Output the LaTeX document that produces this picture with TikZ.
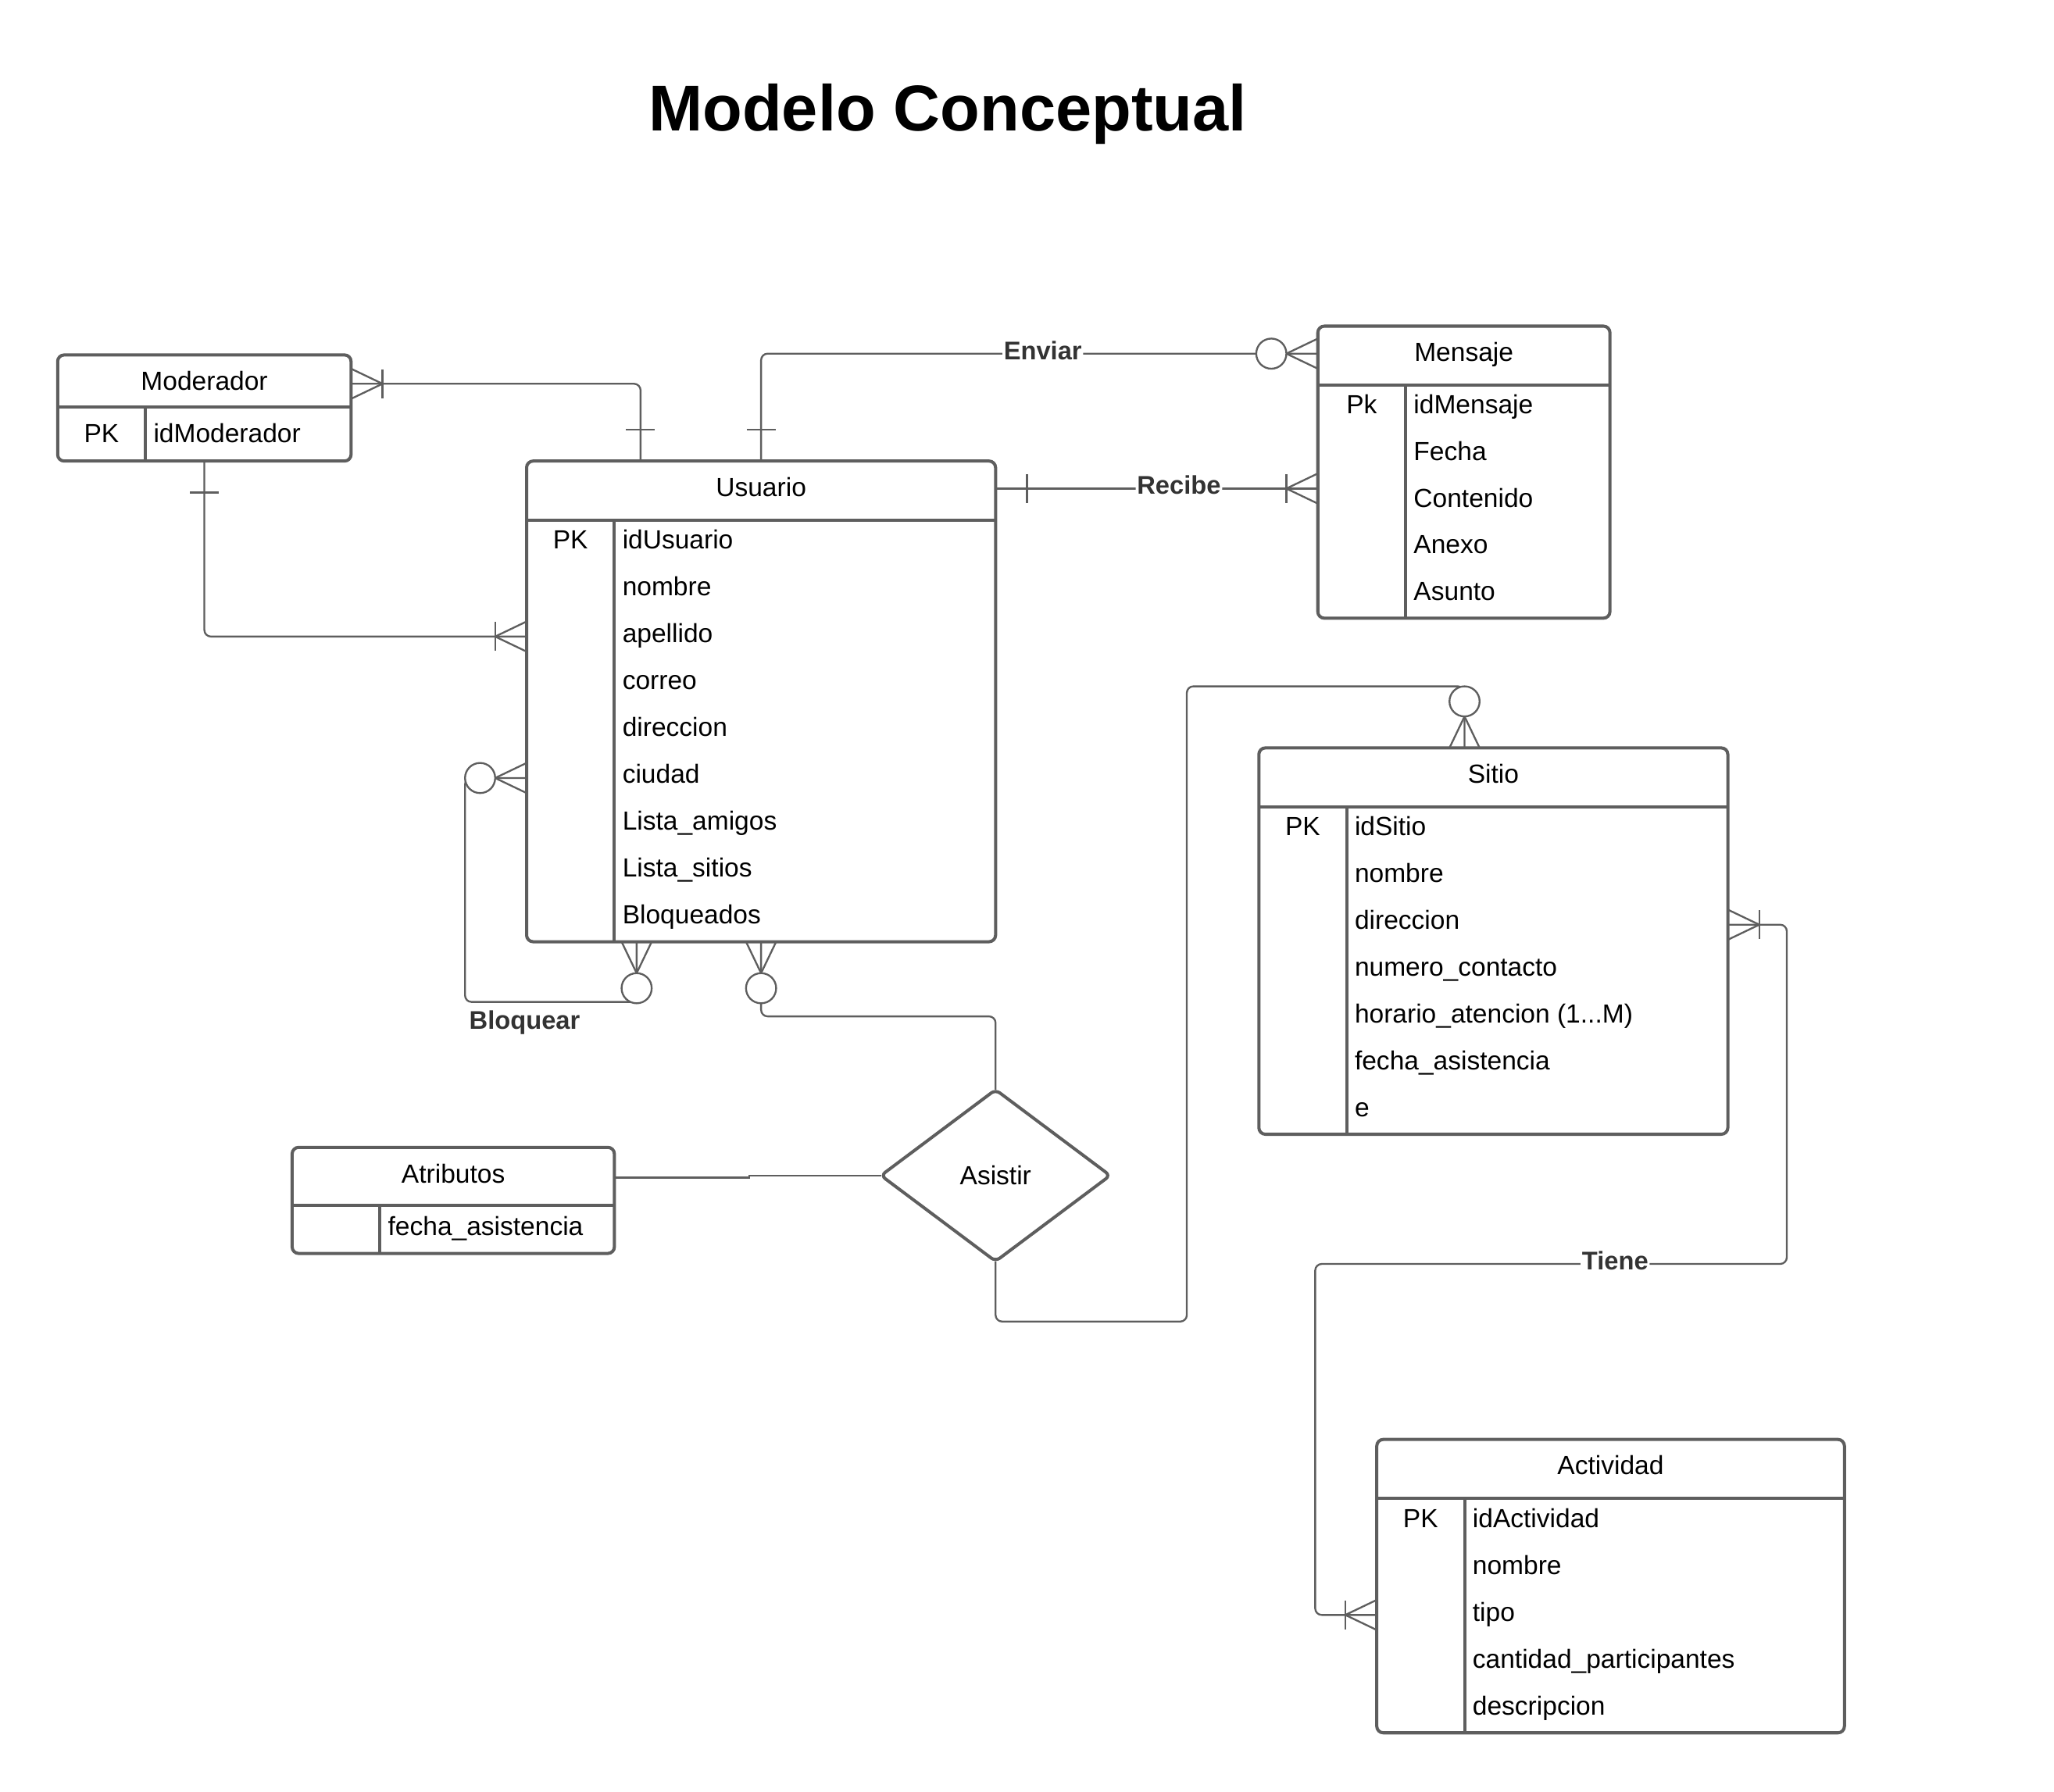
\documentclass[tikz,border=0pt]{standalone}
\usepackage{fontspec}
\setmainfont{Liberation Sans}
\usetikzlibrary{calc,shapes.geometric}

\definecolor{linegray}{RGB}{94,94,94}
\definecolor{lbltext}{RGB}{51,51,51}

\newcommand\erText{\fontsize{20}{24}\selectfont}
\newcommand\erLabel{\fontsize{19.5}{23}\selectfont\bfseries}
\newcommand\erTitle{\fontsize{49.5}{58}\selectfont\bfseries}
\newcommand\horarioField{horario\_atencion (1...M)}

\tikzset{
  entbox/.style={rectangle, draw=linegray, line width=2.4pt, rounded corners=5pt,
                 fill=white, inner sep=0pt, outer sep=0pt},
  divider/.style={draw=linegray, line width=2.4pt},
  conn/.style={draw=linegray, line width=1.4pt, rounded corners=5pt},
  headtext/.style={anchor=base, inner sep=0pt, font=\erText},
  keycell/.style={anchor=base, inner sep=0pt, font=\erText},
  field/.style={anchor=base west, inner sep=0pt, font=\erText},
  rel/.style={diamond, draw=linegray, line width=2.4pt, rounded corners=4pt,
              fill=white, inner sep=0pt, outer sep=0pt, font=\erText},
  lbl/.style={fill=white, inner sep=1pt, yshift=2.5pt, font=\erLabel, text=lbltext},
  % crow's foot ends: local +x points away from the entity
  onebar/.pic={\draw[linegray, line width=1.4pt] (24,-11) -- (24,11);},
  manybar/.pic={\draw[linegray, line width=1.4pt] (0,-11.5) -- (24,0) -- (0,11.5);
                \draw[linegray, line width=1.4pt] (24,-11) -- (24,11);},
  zeromany/.pic={\draw[linegray, line width=1.4pt] (0,-11.5) -- (24,0) -- (0,11.5);
                 \draw[linegray, line width=1.4pt, fill=white] (35.5,0) circle[radius=11.5pt];},
}

\begin{document}
\begin{tikzpicture}[x=1pt,y=-1pt]
\fill[white] (0,0) rectangle (1568,1368);
\useasboundingbox (0,0) rectangle (1568,1368);

% title
\node[anchor=base, inner sep=0pt, font=\erTitle] (title) at (723.5,100) {Modelo Conceptual};

% ---------- Moderador ----------
\node[entbox, minimum width=224pt, minimum height=81pt] (moderador) at (156,311.5) {};
\draw[divider] (44,311) -- (268,311);
\draw[divider] (111,311) -- (111,352);
\node[headtext] (moderador-name) at (156,298) {Moderador};
\node[keycell] (moderador-pk) at (77.5,338) {PK};
\node[field] (moderador-f0) at (117,338) {idModerador};

% ---------- Usuario ----------
\node[entbox, minimum width=358pt, minimum height=367pt] (usuario) at (581,535.5) {};
\draw[divider] (402,397) -- (760,397);
\draw[divider] (469,397) -- (469,719);
\node[headtext] (usuario-name) at (581,379) {Usuario};
\node[keycell] (usuario-pk) at (435.5,419) {PK};
\foreach \t [count=\i from 0] in {idUsuario,nombre,apellido,correo,direccion,ciudad,Lista\_amigos,Lista\_sitios,Bloqueados}
  \node[field] (usuario-f\i) at (475,419+35.8*\i) {\t};

% ---------- Mensaje ----------
\node[entbox, minimum width=223pt, minimum height=223pt] (mensaje) at (1117.5,360.5) {};
\draw[divider] (1006,294) -- (1229,294);
\draw[divider] (1073,294) -- (1073,472);
\node[headtext] (mensaje-name) at (1117.5,276) {Mensaje};
\node[keycell] (mensaje-pk) at (1039.5,316) {Pk};
\foreach \t [count=\i from 0] in {idMensaje,Fecha,Contenido,Anexo,Asunto}
  \node[field] (mensaje-f\i) at (1079,316+35.6*\i) {\t};

% ---------- Sitio ----------
\node[entbox, minimum width=358pt, minimum height=295pt] (sitio) at (1140,718.5) {};
\draw[divider] (961,616) -- (1319,616);
\draw[divider] (1028,616) -- (1028,866);
\node[headtext] (sitio-name) at (1140,598) {Sitio};
\node[keycell] (sitio-pk) at (994.5,638) {PK};
\foreach \t [count=\i from 0] in {idSitio,nombre,direccion,numero\_contacto,\horarioField,fecha\_asistencia,e}
  \node[field] (sitio-f\i) at (1034,638+35.8*\i) {\t};

% ---------- Actividad ----------
\node[entbox, minimum width=357pt, minimum height=224pt] (actividad) at (1229.5,1211) {};
\draw[divider] (1051,1144) -- (1408,1144);
\draw[divider] (1118,1144) -- (1118,1323);
\node[headtext] (actividad-name) at (1229.5,1126) {Actividad};
\node[keycell] (actividad-pk) at (1084.5,1166) {PK};
\foreach \t [count=\i from 0] in {idActividad,nombre,tipo,cantidad\_participantes,descripcion}
  \node[field] (actividad-f\i) at (1124,1166+35.8*\i) {\t};

% ---------- Atributos ----------
\node[entbox, minimum width=246pt, minimum height=81pt] (atributos) at (346,916.5) {};
\draw[divider] (223,920) -- (469,920);
\draw[divider] (290,920) -- (290,957);
\node[headtext] (atributos-name) at (346,903) {Atributos};
\node[field] (atributos-f0) at (296,943) {fecha\_asistencia};

% ---------- Asistir (relationship) ----------
\node[rel, minimum width=175pt, minimum height=131pt] (asistir) at (760,897.5) {Asistir};

% ---------- connectors ----------
% Moderador -- Usuario (top)
\draw[conn] ($(moderador.north east)+(0,22)$) -| ($(usuario.north west)+(87,0)$);
\pic at ($(moderador.north east)+(0,22)$) {manybar};
\pic[rotate=90] at ($(usuario.north west)+(87,0)$) {onebar};

% Moderador -- Usuario (left)
\draw[conn] (moderador.south) |- ($(usuario.north west)+(0,134)$);
\pic[rotate=-90] at (moderador.south) {onebar};
\pic[rotate=180] at ($(usuario.north west)+(0,134)$) {manybar};

% Enviar
\draw[conn] (usuario.north) |- node[lbl, pos=0.753] (enviar) {Enviar} ($(mensaje.north west)+(0,21)$);
\pic[rotate=90] at (usuario.north) {onebar};
\pic[rotate=180] at ($(mensaje.north west)+(0,21)$) {zeromany};

% Recibe
\draw[conn] ($(usuario.north east)+(0,21)$) -- node[lbl, pos=0.569] (recibe) {Recibe} ($(mensaje.north west)+(0,124)$);
\pic at ($(usuario.north east)+(0,21)$) {onebar};
\pic[rotate=180] at ($(mensaje.north west)+(0,124)$) {manybar};

% Bloquear (Usuario self relation)
\draw[conn] ($(usuario.north west)+(0,242)$) -- ++(-47,0) |- ($(usuario.south west)+(84,46)$) -- ($(usuario.south west)+(84,0)$);
\pic[rotate=180] at ($(usuario.north west)+(0,242)$) {zeromany};
\pic[rotate=-90] at ($(usuario.south west)+(84,0)$) {zeromany};
\node[anchor=base, inner sep=0pt, font=\erLabel, text=lbltext] (bloquear) at (400.5,786) {Bloquear};

% Asistir -- Usuario
\draw[conn] (asistir.north) -- ++(0,-56) -| (usuario.south);
\pic[rotate=-90] at (usuario.south) {zeromany};

% Atributos -- Asistir
\draw[conn, sharp corners] ($(atributos.north east)+(0,23)$) -- ++(103,0) -- ++(0,-1.5) -- (asistir.west);

% Asistir -- Sitio
\draw[conn] (asistir.south) -- ++(0,46) -- ++(146,0) |- ($(sitio.north west)+(157,-47)$) -- ($(sitio.north west)+(157,0)$);
\pic[rotate=90] at ($(sitio.north west)+(157,0)$) {zeromany};

% Tiene
\draw[conn] ($(sitio.north east)+(0,135)$) -- ++(45,0) -- ++(0,259) -- node[lbl, pos=0.364] (tiene) {Tiene} ++(-360,0) |- ($(actividad.north west)+(0,134)$);
\pic at ($(sitio.north east)+(0,135)$) {manybar};
\pic[rotate=180] at ($(actividad.north west)+(0,134)$) {manybar};
\end{tikzpicture}
\end{document}
